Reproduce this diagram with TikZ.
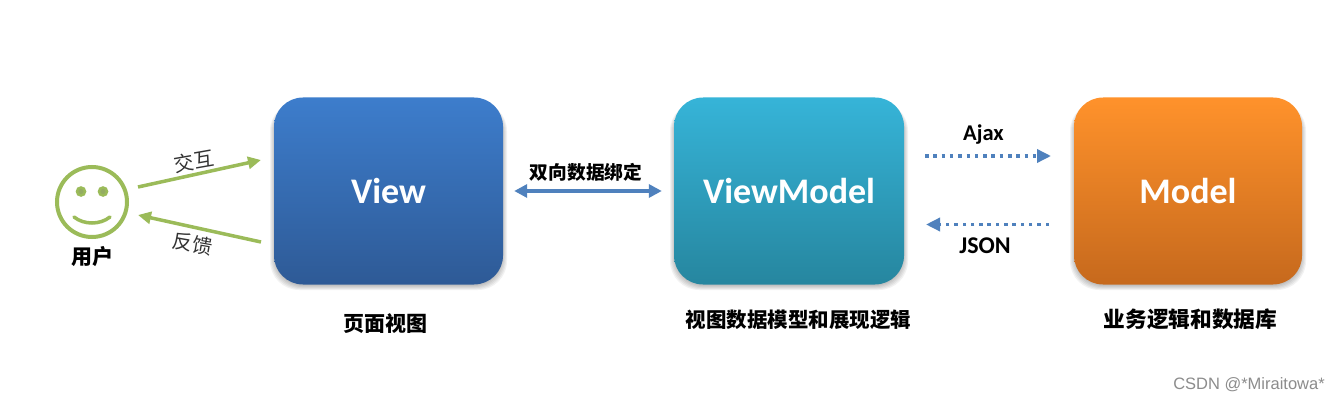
\documentclass[tikz,border=0pt]{standalone}
\usepackage{fontspec}
\setmainfont{Carlito}
\newfontfamily\cjk{Noto Sans CJK SC}
\newfontfamily\wm{Liberation Sans}
\usetikzlibrary{arrows.meta}
\definecolor{grn}{HTML}{9BBB59}
\definecolor{blu}{HTML}{4F81BD}
\definecolor{viewtop}{HTML}{3D7DCC}
\definecolor{viewbot}{HTML}{2E5A96}
\definecolor{vmtop}{HTML}{36B4D8}
\definecolor{vmbot}{HTML}{26869F}
\definecolor{mtop}{HTML}{FF922B}
\definecolor{mbot}{HTML}{C6691D}
\tikzset{
  x=1pt,y=-1pt,
  box/.style={minimum width=#1,minimum height=187pt,rounded corners=29pt,inner sep=0pt,text=white,font=\fontsize{36}{40}\selectfont\bfseries},
  captext/.style={font=\cjk\fontsize{#1}{24}\selectfont\bfseries,inner sep=0pt},
  softtext/.style={font=\cjk\fontsize{20}{24}\selectfont,text=black!80,inner sep=0pt},
  lattext/.style={font=\fontsize{#1}{25}\selectfont\bfseries,inner sep=0pt},
  greenarrow/.style={draw=grn,line width=3.5pt,-{Triangle[length=13pt,width=12pt]}},
  bluearrow/.style={draw=blu,line width=3.5pt,{Triangle[length=13pt,width=13pt]}-{Triangle[length=13pt,width=13pt]}},
  dotarrow/.style={draw=blu,line width=3.4pt,dash pattern=on 3.5pt off 4.8pt,-{Triangle[length=14pt,width=13pt]}},
  softshadow/.style={fill=black,fill opacity=.05,rounded corners=29pt},
  eyedot/.style={draw=grn,line width=2.5pt,fill=grn!75!gray}
}
\begin{document}
\begin{tikzpicture}
\useasboundingbox (0,0) rectangle (1340,401);
\fill[white] (0,0) rectangle (1340,401);
% soft shadows below the boxes
\foreach \xa/\xb in {274/503,674/904,1074/1302}{
  \foreach \d in {0,1,2,3,4}{
    \fill[softshadow] (\xa-\d,102) rectangle (\xb+\d,286+\d);
  }
}
% boxes
\node[box=229pt,top color=viewtop,bottom color=viewbot] (view) at (388.5,191) {View};
\node[box=230pt,top color=vmtop,bottom color=vmbot] (vm) at (789,191) {ViewModel};
\node[box=228pt,top color=mtop,bottom color=mbot] (model) at (1188,191) {Model};
% smiley
\node[circle,draw=grn,line width=4pt,minimum size=70pt,inner sep=0pt] (user) at (92,202) {};
\draw[eyedot] (81,191.5) circle (4);
\draw[eyedot] (103,191.5) circle (4);
\draw[grn,line width=3.5pt,line cap=round] (74,217) .. controls (84,225) and (100,225) .. (110,217);
\node[captext=21] (ulabel) at (92,257) {用户};
% user arrows
\coordinate (a1) at (138,187);
\coordinate (a2) at (261,160);
\coordinate (b1) at (261,242);
\coordinate (b2) at (138,215);
\draw[greenarrow] (a1) -- (a2);
\draw[greenarrow] (b1) -- (b2);
\node[softtext,rotate=10] (jh) at (194,161) {交互};
\node[softtext,rotate=-10] (fk) at (193,244) {反馈};
% binding
\draw[bluearrow,shorten <=11pt,shorten >=12pt] (view.east) -- (vm.west);
\node[captext=18.7] (bind) at (586,172) {双向数据绑定};
% ajax / json
\coordinate (c1) at (925,156);
\coordinate (c2) at (1051,156);
\coordinate (d1) at (1049,224.5);
\coordinate (d2) at (926,224.5);
\draw[dotarrow] (c1) -- (c2);
\draw[dotarrow] (d1) -- (d2);
\node[lattext=22.5] (ajax) at (983.5,135) {Ajax};
\node[lattext=24] (json) at (985,245.5) {JSON};
% captions
\node[captext=21] (c-view) at (385,324) {页面视图};
\node[captext=20.5] (c-vm) at (798.5,320) {视图数据模型和展现逻辑};
\node[captext=21.7] (c-m) at (1190.5,319) {业务逻辑和数据库};
\node[font=\wm\fontsize{16.5}{20}\selectfont,text=black!45,inner sep=0pt] (wmk) at (1249,385) {CSDN @*Miraitowa*};
\end{tikzpicture}
\end{document}
